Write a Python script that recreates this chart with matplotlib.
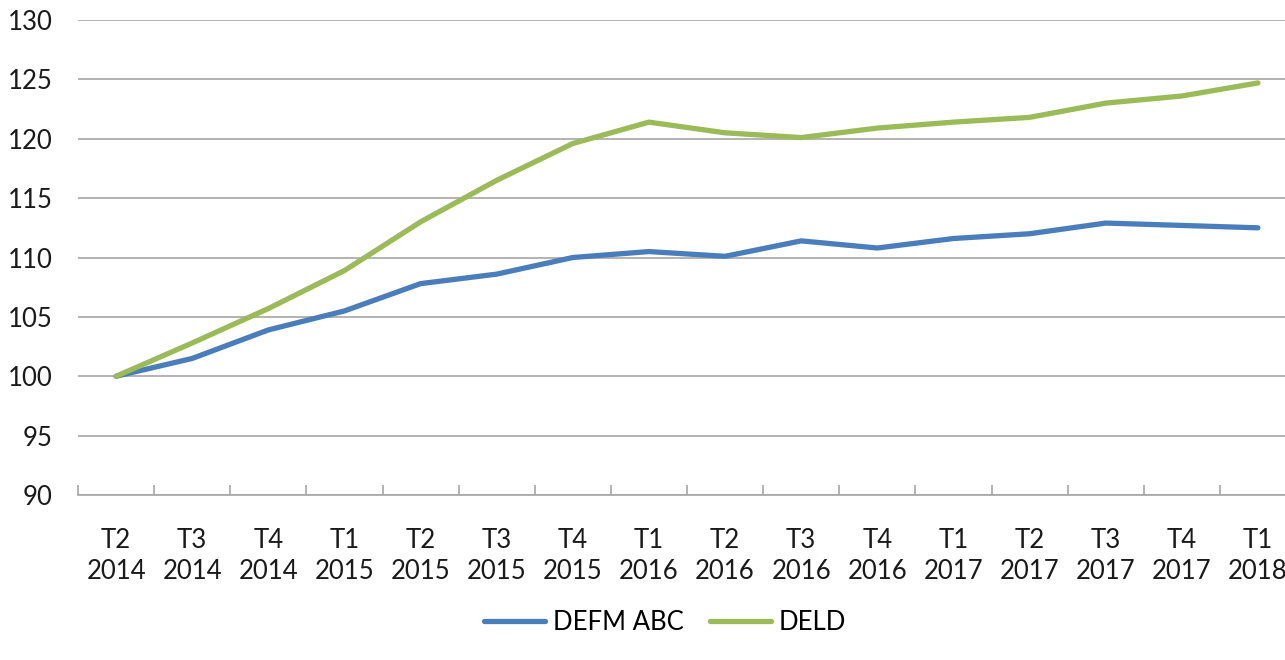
import matplotlib.pyplot as plt
from matplotlib.ticker import FixedLocator, NullFormatter

# Data
quarters = ["T2\n2014", "T3\n2014", "T4\n2014", "T1\n2015", "T2\n2015", "T3\n2015",
            "T4\n2015", "T1\n2016", "T2\n2016", "T3\n2016", "T4\n2016", "T1\n2017",
            "T2\n2017", "T3\n2017", "T4\n2017", "T1\n2018"]
defm_abc = [100.0, 101.5, 103.9, 105.5, 107.8, 108.6, 110.0, 110.5,
            110.1, 111.4, 110.8, 111.6, 112.0, 112.9, 112.7, 112.5]
deld = [100.0, 102.8, 105.7, 108.9, 113.0, 116.5, 119.6, 121.4,
        120.5, 120.1, 120.9, 121.4, 121.8, 123.0, 123.6, 124.7]

plt.rcParams['font.family'] = ['Lato', 'DejaVu Sans']

fig = plt.figure(figsize=(12.85, 6.6), dpi=100)
# plot area runs past the right edge, as in the reference
ax = fig.add_axes([78 / 1285, 165 / 660, 1218 / 1285, 475 / 660])

x = list(range(len(quarters)))
ax.plot(x, defm_abc, color="#4A7EBB", lw=3.8, label="DEFM ABC", solid_capstyle="round")
ax.plot(x, deld, color="#9BBB59", lw=3.8, label="DELD", solid_capstyle="round")

ax.set_xlim(-0.5, len(quarters) - 0.5)
ax.set_ylim(90, 130)
ax.set_yticks(range(90, 131, 5))
ax.yaxis.grid(True, color="#A6A6A6", lw=1.2)
ax.set_axisbelow(True)

ax.set_xticks(x)
ax.set_xticklabels(quarters, fontsize=18.5, linespacing=1.3, color="#1a1a1a")
ax.xaxis.set_minor_locator(FixedLocator([i - 0.5 for i in range(len(quarters) + 1)]))
ax.xaxis.set_minor_formatter(NullFormatter())
ax.tick_params(axis="x", which="major", length=0, pad=24)
ax.tick_params(axis="x", which="minor", direction="in", length=7, color="#A6A6A6", width=1.2)
ax.tick_params(axis="y", length=0, pad=18, labelsize=18.5, labelcolor="#1a1a1a")

for s in ["top", "right", "left"]:
    ax.spines[s].set_visible(False)
ax.spines["bottom"].set_color("#A6A6A6")
ax.spines["bottom"].set_linewidth(1.2)

fig.legend(loc="center", bbox_to_anchor=(665 / 1285, 1 - 622 / 660), ncol=2,
           frameon=False, fontsize=18.5, handlelength=2.4, columnspacing=1.0,
           handletextpad=0.3)

fig.savefig("out.png", dpi=100)
